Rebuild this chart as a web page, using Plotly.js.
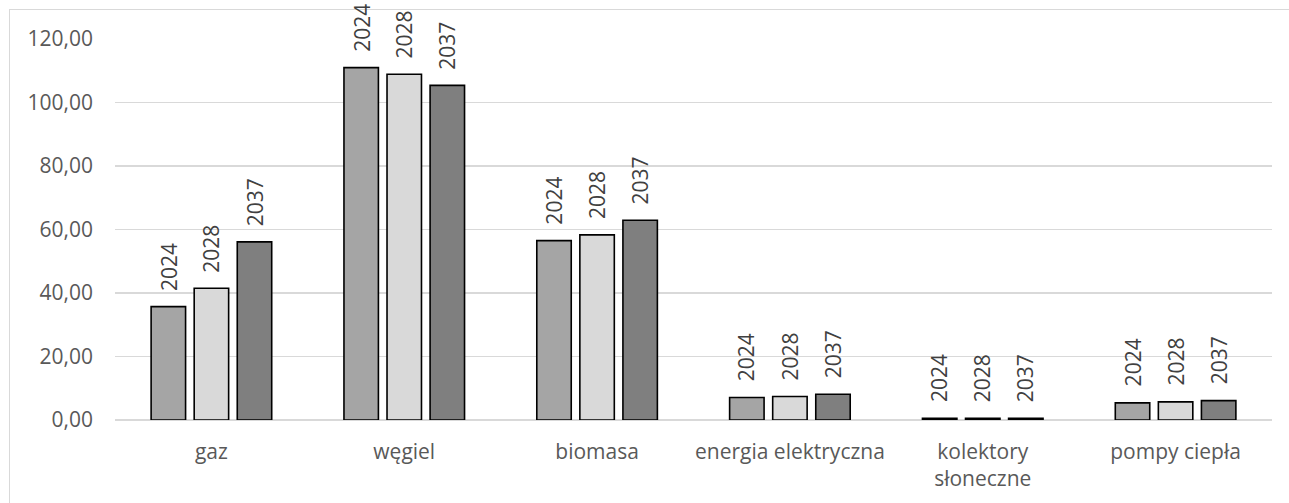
<!DOCTYPE html>
<html>
<head>
<meta charset="utf-8">
<script src="https://cdn.plot.ly/plotly-3.0.1.min.js"></script>
<style>
  html, body { margin: 0; padding: 0; background: #ffffff; }
  #frame { position: absolute; left: 9px; top: 9px; width: 1290px; height: 500px;
           border-left: 1px solid #d9d9d9; border-top: 1px solid #d9d9d9; }
  #chart { position: absolute; left: 0; top: 0; width: 1289px; height: 503px; }
</style>
</head>
<body>
<div id="frame"></div>
<div id="chart"></div>
<script>
// Heat source categories and yearly values
const categories = ['gaz', 'węgiel', 'biomasa', 'energia elektryczna', 'kolektory<br>słoneczne', 'pompy ciepła'];
const years = ['2024', '2028', '2037'];
const values2024 = [35.7, 111.0, 56.5, 7.1, 0.5, 5.4];
const values2028 = [41.5, 108.9, 58.3, 7.4, 0.5, 5.7];
const values2037 = [56.1, 105.4, 62.9, 8.1, 0.5, 6.1];
const seriesValues = [values2024, values2028, values2037];
const seriesColors = ['#a5a5a5', '#d9d9d9', '#7f7f7f'];

const FONT = 'Open Sans, sans-serif';
const bargap = 0.33;

const traces = years.map((yr, s) => ({
  type: 'bar',
  name: yr,
  x: categories.map((_, i) => i),
  y: seriesValues[s],
  marker: { color: seriesColors[s], line: { color: '#000000', width: 1.6 } },
  hoverinfo: 'x+y+name'
}));

// Year labels above each bar, rotated, placed at the bar's slot within its group
const slot = (1 - bargap) / years.length;
const annotations = [];
years.forEach((yr, s) => {
  seriesValues[s].forEach((v, i) => {
    annotations.push({
      x: i + (s - (years.length - 1) / 2) * slot,
      y: v,
      xref: 'x', yref: 'y',
      text: yr,
      textangle: -90,
      showarrow: false,
      xanchor: 'center',
      yanchor: 'bottom',
      yshift: 14,
      font: { family: FONT, size: 21, color: '#404040' }
    });
  });
});

const layout = {
  width: 1289, height: 503,
  margin: { l: 115, r: 17, t: 39, b: 83 },
  paper_bgcolor: 'rgba(0,0,0,0)',
  plot_bgcolor: 'rgba(0,0,0,0)',
  separators: ', ',
  showlegend: false,
  barmode: 'group',
  bargap: bargap,
  bargroupgap: 0.2,
  font: { family: FONT, size: 21, color: '#595959' },
  xaxis: {
    tickmode: 'array',
    tickvals: categories.map((_, i) => i),
    ticktext: categories,
    range: [-0.5, categories.length - 0.5],
    showgrid: false,
    zeroline: false,
    showline: false,
    ticks: '',
    ticklabelstandoff: 17,
    tickfont: { family: FONT, size: 21, color: '#595959' }
  },
  yaxis: {
    range: [0, 120],
    dtick: 20,
    tickformat: '.2f',
    showgrid: true,
    gridcolor: '#d9d9d9',
    gridwidth: 1.5,
    zeroline: true,
    zerolinecolor: '#d9d9d9',
    zerolinewidth: 1.5,
    showline: false,
    ticks: '',
    ticklabelstandoff: 21,
    tickfont: { family: FONT, size: 21, color: '#595959' }
  },
  annotations: annotations
};

Plotly.newPlot('chart', traces, layout, { staticPlot: true, displayModeBar: false });
</script>
</body>
</html>
